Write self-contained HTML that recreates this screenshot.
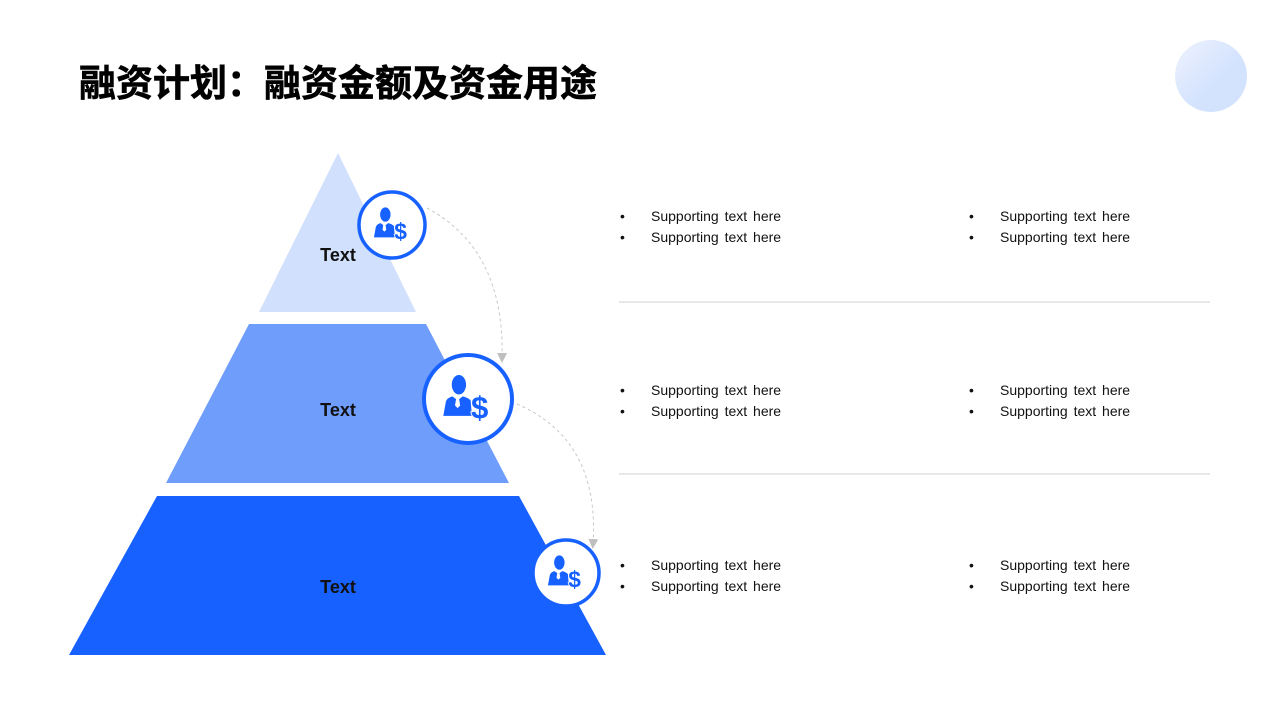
<!DOCTYPE html>
<html><head><meta charset="utf-8"><style>
body{margin:0;background:#fff;width:1280px;height:720px;overflow:hidden}
svg{display:block}
</style></head><body>
<svg width="1280" height="720" viewBox="0 0 1280 720" xmlns="http://www.w3.org/2000/svg">
<defs>
<linearGradient id="g" x1="0" y1="0" x2="1" y2="1"><stop offset="0" stop-color="#eef3ff"/><stop offset="0.6" stop-color="#d3e2fd"/></linearGradient>
<g id="ic">
<ellipse cx="-7" cy="-11" rx="5.5" ry="7.5" fill="#1661ff"/>
<path d="M-19 13 L-17 2 Q-16 -1 -12 -2 L-8 1 L-4 -2 Q0 -1 2 1 L3 13 Z" fill="#1661ff"/>
<path d="M-9 -1 L-7 -1 L-6 5 L-8 7 L-10 5 Z" fill="#fff"/>
<text x="9" y="15" font-family="Liberation Sans,sans-serif" font-weight="bold" font-size="24" fill="#1661ff" stroke="#fff" stroke-width="1.5" paint-order="stroke" text-anchor="middle">$</text>
</g>
<marker id="ar" markerWidth="10" markerHeight="10" refX="5" refY="5" orient="auto"><path d="M0 0 L10 5 L0 10 Z" fill="#bfbfbf"/></marker>
</defs>
<text x="79" y="96" font-family="Liberation Sans,'Noto Sans CJK SC',sans-serif" font-weight="bold" font-size="37" fill="#000" stroke="#000" stroke-width="0.6">融资计划：融资金额及资金用途</text>
<circle cx="1211" cy="76" r="36" fill="url(#g)"/>
<polygon points="338,153 416,312 259,312" fill="#d0e0fd"/>
<polygon points="249,324 426,324 509,483 166,483" fill="#6f9dfc"/>
<polygon points="157,496 519,496 606,655 69,655" fill="#1661ff"/>
<g font-family="Liberation Sans,sans-serif" font-weight="bold" font-size="18" fill="#111" text-anchor="middle">
<text x="338" y="261">Text</text><text x="338" y="416">Text</text><text x="338" y="593">Text</text></g>
<path d="M427 208 Q505 250 502 358" fill="none" stroke="#c8c8c8" stroke-width="1" stroke-dasharray="3,3" marker-end="url(#ar)"/>
<path d="M517 404 Q600 440 593 544" fill="none" stroke="#c8c8c8" stroke-width="1" stroke-dasharray="3,3" marker-end="url(#ar)"/>
<circle cx="392" cy="225" r="33" fill="#fff" stroke="#1661ff" stroke-width="3.5"/>
<use href="#ic" transform="translate(392,225) scale(0.95)"/>
<circle cx="468" cy="399" r="44" fill="#fff" stroke="#1661ff" stroke-width="4"/>
<use href="#ic" transform="translate(468,399) scale(1.3)"/>
<circle cx="566" cy="573" r="33" fill="#fff" stroke="#1661ff" stroke-width="3.5"/>
<use href="#ic" transform="translate(566,573) scale(0.95)"/>
<line x1="619" y1="302" x2="1210" y2="302" stroke="#d0d0d0" stroke-width="1"/>
<line x1="619" y1="474" x2="1210" y2="474" stroke="#d0d0d0" stroke-width="1"/>
<g font-family="Liberation Sans,sans-serif" font-size="14" fill="#111" word-spacing="2">
<text x="620" y="221">•</text><text x="651" y="221">Supporting text here</text>
<text x="620" y="242">•</text><text x="651" y="242">Supporting text here</text>
<text x="969" y="221">•</text><text x="1000" y="221">Supporting text here</text>
<text x="969" y="242">•</text><text x="1000" y="242">Supporting text here</text>
<text x="620" y="395">•</text><text x="651" y="395">Supporting text here</text>
<text x="620" y="416">•</text><text x="651" y="416">Supporting text here</text>
<text x="969" y="395">•</text><text x="1000" y="395">Supporting text here</text>
<text x="969" y="416">•</text><text x="1000" y="416">Supporting text here</text>
<text x="620" y="570">•</text><text x="651" y="570">Supporting text here</text>
<text x="620" y="591">•</text><text x="651" y="591">Supporting text here</text>
<text x="969" y="570">•</text><text x="1000" y="570">Supporting text here</text>
<text x="969" y="591">•</text><text x="1000" y="591">Supporting text here</text>
</g>
</svg>
</body></html>
